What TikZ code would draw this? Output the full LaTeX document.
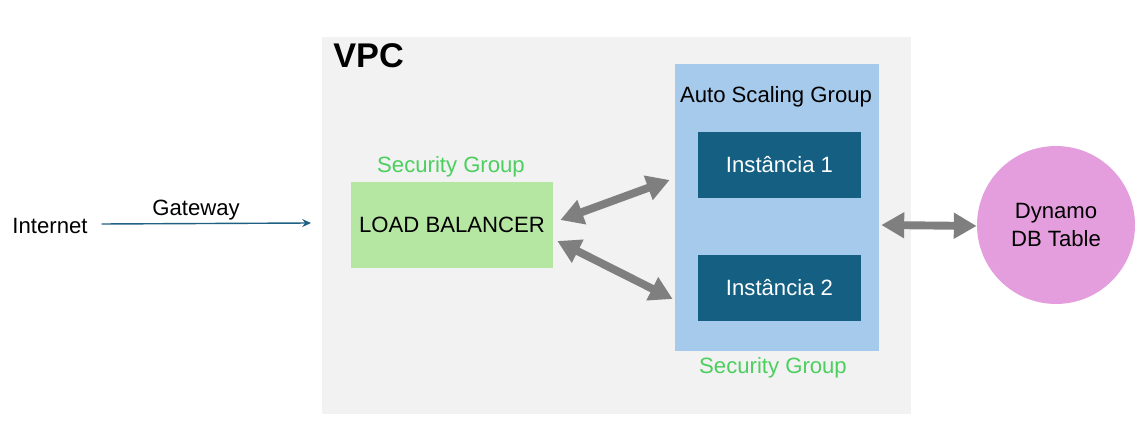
\documentclass[tikz,border=0pt]{standalone}
\usepackage{fontspec}
\setmainfont{Liberation Sans}
\usetikzlibrary{positioning,arrows.meta,calc}

\definecolor{vpcgray}{HTML}{F2F2F2}
\definecolor{lbgreen}{HTML}{B5E6A2}
\definecolor{asgblue}{HTML}{A6CAEC}
\definecolor{instblue}{HTML}{156082}
\definecolor{dbpink}{HTML}{E59EDD}
\definecolor{sggreen}{HTML}{4CCF5F}
\definecolor{arrgray}{HTML}{7F7F7F}
\definecolor{gwblue}{HTML}{1F6183}

\begin{document}
\begin{tikzpicture}[
    x=0.02cm, y=-0.02cm,
    font=\fontsize{12.6}{16}\selectfont,
    box/.style={minimum width=4.04cm, minimum height=1.72cm, align=center},
    inst/.style={fill=instblue, text=white, minimum width=3.26cm, minimum height=1.32cm},
    sglabel/.style={text=sggreen},
    arr/.style={{Triangle[length=13pt,width=14pt]}-{Triangle[length=13pt,width=14pt]}, line width=4.5pt, draw=arrgray},
    gw/.style={-{Stealth[length=5pt,width=4.5pt]}, draw=gwblue, line width=0.8pt}
]
\useasboundingbox (0,0) rectangle (1139,445);

% VPC area
\node[fill=vpcgray, minimum width=11.78cm, minimum height=7.54cm] (vpc) at (616.5,225.5) {};
\node[anchor=base west, inner sep=0pt, font=\fontsize{19.5}{22}\selectfont\bfseries] (vpctitle) at (333,68) {VPC};

% internet side
\node (inet) at (50,226) {Internet};
\coordinate (gwend) at (311,223);
\node (gwlabel) at (196,210) {Gateway};

% load balancer
\node[box, fill=lbgreen] (lb) at (452,225) {LOAD BALANCER};
\node[sglabel] (sglb) at (451,167) {Security Group};

% auto scaling group
\node[fill=asgblue, minimum width=4.08cm, minimum height=5.74cm] (asg) at (777,207.5) {};
\node (asglabel) at (776,97) {Auto Scaling Group};
\node[inst] (inst1) at (779.5,165) {Instância 1};
\node[inst] (inst2) at (779.5,288) {Instância 2};
\node[sglabel] (sgasg) at (773,368) {Security Group};

% database
\node[circle, fill=dbpink, minimum size=3.16cm, align=center] (dyn) at (1056,225) {Dynamo\\DB Table};

\draw[gw] ($(inet.east)+(8,-2)$) -- (gwend);
\draw[arr] ($(lb.east)+(7,-5)$) -- ($(asg.west)+(-5,-27.5)$);
\draw[arr] ($(lb.east)+(4,16)$) -- ($(asg.west)+(-2,91.5)$);
\draw[arr] ($(asg.east)+(2,17.5)$) -- ($(dyn.west)+(0,1)$);
\end{tikzpicture}
\end{document}
